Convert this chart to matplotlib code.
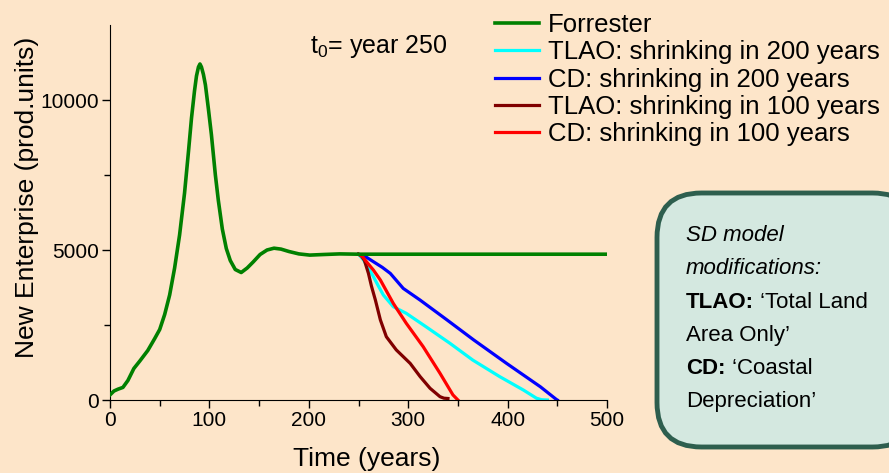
import matplotlib.pyplot as plt
from matplotlib.patches import FancyBboxPatch

# values
t_forr = [0, 4, 8, 13, 18, 24, 30, 38, 45, 50, 55, 60, 65, 70, 75, 79, 82, 85, 87, 89, 90.5, 92, 94, 96, 99, 102, 106, 109, 113, 117, 121, 126, 132, 138, 144, 151, 158, 165, 172, 180, 190, 201, 215, 231, 250, 300, 400, 500]
v_forr = [170, 300, 360, 420, 650, 1050, 1300, 1650, 2050, 2350, 2850, 3500, 4400, 5500, 6900, 8300, 9400, 10300, 10800, 11100, 11200, 11100, 10850, 10500, 9700, 8850, 7500, 6650, 5700, 5050, 4650, 4350, 4250, 4400, 4600, 4850, 5000, 5060, 5030, 4950, 4870, 4830, 4850, 4870, 4860, 4860, 4860, 4860]

t_tlao200 = [250, 255, 260, 265, 270, 275, 285, 298, 318, 342, 365, 392, 416, 429, 434, 440]
v_tlao200 = [4860, 4670, 4400, 4110, 3800, 3500, 3110, 2890, 2440, 1890, 1330, 780, 330, 60, 10, 0]

t_cd200 = [250, 257, 265, 274, 282, 295, 312, 339, 366, 399, 433, 449, 450]
v_cd200 = [4860, 4780, 4610, 4420, 4220, 3720, 3330, 2670, 2000, 1220, 440, 20, 0]

t_tlao100 = [250, 253, 256, 260, 263, 267, 272, 278, 288, 302, 312, 322, 332, 336, 340]
v_tlao100 = [4860, 4800, 4650, 4220, 3800, 3330, 2670, 2110, 1670, 1220, 780, 390, 110, 60, 50]

t_cd100 = [250, 254, 258, 265, 272, 285, 298, 315, 332, 345, 350]
v_cd100 = [4860, 4780, 4610, 4330, 4000, 3220, 2560, 1780, 890, 170, 0]

series = [
    ("Forrester", t_forr, v_forr, "#008000"),
    ("TLAO: shrinking in 200 years", t_tlao200, v_tlao200, "#00FFFF"),
    ("CD: shrinking in 200 years", t_cd200, v_cd200, "#0000FF"),
    ("TLAO: shrinking in 100 years", t_tlao100, v_tlao100, "#800000"),
    ("CD: shrinking in 100 years", t_cd100, v_cd100, "#FF0000"),
]

plt.rcParams['font.family'] = ['Liberation Sans', 'DejaVu Sans']
bg = "#FDE5C9"
W, H = 889, 473

fig = plt.figure(figsize=(W / 100, H / 100), dpi=100, facecolor=bg)
ax = fig.add_axes([110/W, 1 - 400/H, 497/W, 375/H])
ax.set_facecolor(bg)

for name, t, v, c in series[1:]:
    ax.plot(t, v, color=c, linewidth=2.3, label=name)
ax.plot(t_forr, v_forr, color=series[0][3], linewidth=2.6, label=series[0][0], zorder=3)

ax.set_xlim(0, 500)
ax.set_ylim(0, 12500)
ax.set_xticks([0, 100, 200, 300, 400, 500])
ax.set_xticks([50, 150, 250, 350, 450], minor=True)
ax.set_yticks([0, 5000, 10000])
ax.set_yticks([2500, 7500], minor=True)
ax.tick_params(which='major', length=6, width=1, labelsize=15, direction='out', pad=2)
ax.tick_params(which='minor', length=4, width=1, direction='out')
for s in ['top', 'right']:
    ax.spines[s].set_visible(False)

ax.set_xlabel('Time (years)', fontsize=19)
ax.set_ylabel('New Enterprise (prod.units)', fontsize=19)
ax.xaxis.set_label_coords(0.516, -0.125)
ax.yaxis.set_label_coords(-0.142, 0.541)

fig.text(310/W, 1 - 46/H, r'$\mathregular{t_0}$= year 250', fontsize=18, va='center', ha='left')

# legend top right, outside the axes
h, l = ax.get_legend_handles_labels()
order = [4, 0, 1, 2, 3]
fig.legend([h[i] for i in order], [l[i] for i in order], loc='upper left',
           bbox_to_anchor=(495/W, 1 - 13/H), frameon=False, fontsize=18.5,
           handlelength=1.7, handletextpad=0.35, labelspacing=0.13, borderaxespad=0,
           borderpad=0)

# annotation box
box = FancyBboxPatch((657/W, 1 - 447/H), 260/W, 254/H,
                     boxstyle="round,pad=0,rounding_size=0.05", transform=fig.transFigure,
                     facecolor="#D4E8E0", edgecolor="#2E5E4E", linewidth=3.5, clip_on=False,
                     mutation_aspect=W/H)
fig.patches.append(box)

fs_box = 16
x0 = 686
lines_y = [235, 268, 302, 335, 368, 402]
fig.text(x0/W, 1 - lines_y[0]/H, 'SD model', style='italic', fontsize=fs_box, va='center')
fig.text(x0/W, 1 - lines_y[1]/H, 'modifications:', style='italic', fontsize=fs_box, va='center')
fig.text(x0/W, 1 - lines_y[3]/H, 'Area Only’', fontsize=fs_box, va='center')
fig.text(x0/W, 1 - lines_y[5]/H, 'Depreciation’', fontsize=fs_box, va='center')

renderer = fig.canvas.get_renderer()
for bold, rest, yy in [('TLAO:', ' ‘Total Land', lines_y[2]), ('CD:', ' ‘Coastal', lines_y[4])]:
    tb = fig.text(x0/W, 1 - yy/H, bold, weight='bold', fontsize=fs_box, va='center')
    bb = tb.get_window_extent(renderer)
    fig.text(bb.x1/W, 1 - yy/H, rest, fontsize=fs_box, va='center')

fig.savefig('out.png', dpi=100, facecolor=bg)
